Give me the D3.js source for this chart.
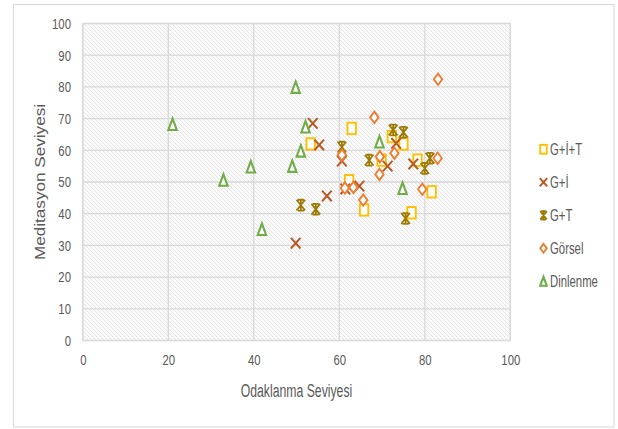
<!DOCTYPE html>
<html>
<head>
<meta charset="utf-8">
<script src="https://cdn.jsdelivr.net/npm/d3@7"></script>
<style>
  html, body { margin: 0; padding: 0; background: #ffffff; }
  svg { display: block; }
  text { font-family: "Liberation Sans", Arial, sans-serif; fill: #595959; }
</style>
</head>
<body>
<svg id="chart" width="618" height="429"></svg>
<script>
// Odaklanma (x) vs. Meditasyon (y) seviyeleri, one array pair per group
const seriesNames = ["G+İ+T", "G+İ", "G+T", "Görsel", "Dinlenme"];

const giT_x = [53.3, 62.9, 62.3, 72.3, 75.0, 69.9, 78.3, 81.6, 65.8, 76.9];
const giT_y = [62.0, 66.9, 50.4, 64.3, 62.0, 56.9, 56.9, 46.9, 41.2, 40.3];

const gi_x = [53.8, 55.3, 57.1, 49.8, 60.6, 61.4, 64.7, 71.3, 73.3, 77.3];
const gi_y = [68.5, 61.7, 45.6, 30.7, 56.6, 47.8, 48.7, 55.0, 62.2, 55.7];

const gt_x = [51.0, 54.5, 60.6, 67.0, 72.6, 75.0, 81.2, 80.0, 75.5];
const gt_y = [42.7, 41.4, 61.0, 56.9, 66.4, 65.7, 57.5, 54.3, 38.5];

const gorsel_x = [83.1, 68.2, 69.5, 72.9, 83.0, 69.4, 61.3, 63.3, 65.6, 79.4, 60.6];
const gorsel_y = [82.4, 70.4, 58.0, 59.1, 57.5, 52.4, 48.1, 48.3, 44.3, 47.7, 58.5];

const dinlenme_x = [49.8, 21.0, 52.1, 51.0, 39.3, 49.0, 32.9, 41.9, 69.4, 74.8];
const dinlenme_y = [79.9, 68.2, 67.4, 59.8, 54.8, 55.0, 50.6, 35.1, 62.7, 48.0];

const xTicks = [0, 20, 40, 60, 80, 100];
const yTicks = [0, 10, 20, 30, 40, 50, 60, 70, 80, 90, 100];

const xTitle = "Odaklanma Seviyesi";
const yTitle = "Meditasyon Seviyesi";

// ---- drawing ----
const series = [
  { name: seriesNames[0], xs: giT_x, ys: giT_y, color: "#FFC000", marker: "square" },
  { name: seriesNames[1], xs: gi_x, ys: gi_y, color: "#B85A24", marker: "cross" },
  { name: seriesNames[2], xs: gt_x, ys: gt_y, color: "#9C7A06", marker: "star" },
  { name: seriesNames[3], xs: gorsel_x, ys: gorsel_y, color: "#ED7D31", marker: "diamond" },
  { name: seriesNames[4], xs: dinlenme_x, ys: dinlenme_y, color: "#70AD47", marker: "triangle" }
];

const NARROW = 0.8; // horizontal squeeze giving a narrow face

const svg = d3.select("#chart");
const plot = { left: 82.8, right: 510.3, top: 23.5, bottom: 340.5 };

const x = d3.scaleLinear().domain([0, 100]).range([plot.left, plot.right]);
const y = d3.scaleLinear().domain([0, 100]).range([plot.bottom, plot.top]);

// hatch texture for the plot background
const defs = svg.append("defs");
const pat = defs.append("pattern")
  .attr("id", "hatch").attr("width", 4).attr("height", 4)
  .attr("patternUnits", "userSpaceOnUse");
pat.append("rect").attr("width", 4).attr("height", 4).attr("fill", "#fbfbfb");
pat.append("path")
  .attr("d", "M0,0 L4,4 M-1,3 L1,5 M3,-1 L5,1")
  .attr("stroke", "#e4e4e4").attr("stroke-width", 1);

// outer chart frame
svg.append("rect")
  .attr("x", 13.5).attr("y", 4.5).attr("width", 600.5).attr("height", 422.5)
  .attr("fill", "#ffffff").attr("stroke", "#d9d9d9").attr("stroke-width", 1);

// plot area
svg.append("rect")
  .attr("x", plot.left).attr("y", plot.top)
  .attr("width", plot.right - plot.left).attr("height", plot.bottom - plot.top)
  .attr("fill", "url(#hatch)").attr("stroke", "#d9d9d9").attr("stroke-width", 1.2);

// gridlines
const grid = svg.append("g");
grid.selectAll("line.gy").data(yTicks).join("line")
  .attr("x1", plot.left).attr("x2", plot.right)
  .attr("y1", d => y(d)).attr("y2", d => y(d))
  .attr("stroke", "#d9d9d9").attr("stroke-width", 1.3);
grid.selectAll("line.gx").data(xTicks).join("line")
  .attr("y1", plot.top).attr("y2", plot.bottom)
  .attr("x1", d => x(d)).attr("x2", d => x(d))
  .attr("stroke", "#d9d9d9").attr("stroke-width", 1.3);

// axes (labels only)
const xPad = 13.8, yPad = 11.8;
const xAxis = svg.append("g")
  .attr("transform", `translate(0,${plot.bottom})`)
  .call(d3.axisBottom(x).tickValues(xTicks).tickSize(0).tickPadding(xPad));
const yAxis = svg.append("g")
  .attr("transform", `translate(${plot.left},0)`)
  .call(d3.axisLeft(y).tickValues(yTicks).tickSize(0).tickPadding(yPad));
[xAxis, yAxis].forEach(a => {
  a.select(".domain").remove();
  a.selectAll("text")
    .style("font-family", '"Liberation Sans", Arial, sans-serif')
    .style("font-size", "14.2px").attr("fill", "#595959")
    .attr("transform", `scale(${NARROW},1.06)`);
});
xAxis.selectAll("text").attr("y", xPad / 1.06);
yAxis.selectAll("text").attr("x", -yPad / NARROW);

// marker shapes
function drawMarker(g, type, color, s) {
  const w = 4.2 * s, h = 5.7 * s;
  const sw = 1.9;
  if (type === "square") {
    g.append("rect").attr("x", -w).attr("y", -h).attr("width", 2 * w).attr("height", 2 * h)
      .attr("fill", "#ffffff").attr("stroke", color).attr("stroke-width", sw);
  } else if (type === "diamond") {
    g.append("path").attr("d", `M0,${-h} L${w},0 L0,${h} L${-w},0 Z`)
      .attr("fill", "#ffffff").attr("stroke", color).attr("stroke-width", sw);
  } else if (type === "triangle") {
    g.append("path").attr("d", `M0,${-h} L${w},${h} L${-w},${h} Z`)
      .attr("fill", "#ffffff").attr("stroke", color).attr("stroke-width", 2.1)
      .attr("stroke-linejoin", "miter");
  } else if (type === "cross") {
    const cw = 4.8 * s, ch = 5.3 * s;
    g.append("path").attr("d", `M${-cw},${-ch} L${cw},${ch} M${cw},${-ch} L${-cw},${ch}`)
      .attr("fill", "none").attr("stroke", color).attr("stroke-width", 2);
  } else if (type === "star") {
    const cw = 4.3 * s, ch = 5.4 * s, bw = 3.0 * s;
    g.append("path")
      .attr("d", `M${-cw},${-ch} L${cw},${ch} M${cw},${-ch} L${-cw},${ch} M0,${-ch} L0,${ch} M${-bw},${-ch} L${bw},${-ch} M${-bw},${ch} L${bw},${ch}`)
      .attr("fill", "none").attr("stroke", color).attr("stroke-width", 1.8);
  }
}

// points
series.forEach(sr => {
  const pts = sr.xs.map((v, i) => ({ x: v, y: sr.ys[i] }));
  const g = svg.append("g");
  g.selectAll("g").data(pts).join("g")
    .attr("transform", d => `translate(${x(d.x)},${y(d.y)})`)
    .each(function () { drawMarker(d3.select(this), sr.marker, sr.color, 1); });
});

// axis titles
svg.append("text")
  .attr("transform", `translate(296.5,397) scale(${NARROW},1.2)`)
  .attr("text-anchor", "middle")
  .style("font-size", "15.3px")
  .text(xTitle);

svg.append("text")
  .attr("transform", `translate(44.5,182) rotate(-90) scale(${1.4 * NARROW},1)`)
  .attr("text-anchor", "middle")
  .style("font-size", "15.3px")
  .text(yTitle);

// legend
const legend = svg.append("g");
const legendY = d3.scaleLinear().domain([0, 1]).range([149.3, 182.3]);
series.forEach((sr, i) => {
  const cy = legendY(i);
  const mg = legend.append("g").attr("transform", `translate(543.5,${cy})`);
  drawMarker(mg, sr.marker, sr.color, 0.78);
  legend.append("text")
    .attr("transform", `translate(550,${cy + 5.6}) scale(${NARROW},1.15)`)
    .style("font-size", "14.2px")
    .text(sr.name);
});
</script>
</body>
</html>
